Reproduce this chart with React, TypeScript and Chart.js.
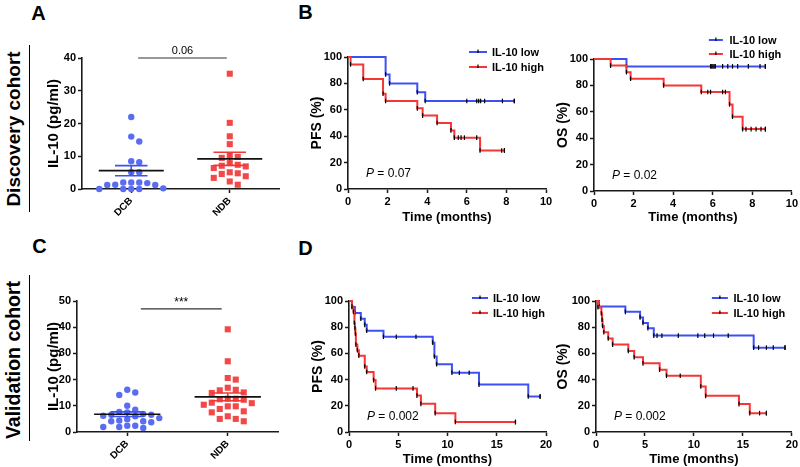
import React, { useEffect, useRef } from "react";
import { Chart, registerables } from "chart.js";

const FONT = "'Liberation Sans', Arial, Helvetica, sans-serif";

// ---------------- DATA ----------------
const groupLabels = ["DCB", "NDB"];
const seriesLabels = ["IL-10 low", "IL-10 high"];

// Panel A – discovery cohort IL-10 (pg/ml)
const aDcb = [22.0, 16.0, 14.5, 8.5, 8.2, 5.1, 5.1, 2.0, 2.0, 2.0, 1.8, 1.3, 1.2, 1.2, 0.2, 0.0, 0.0, 0.0, 0.0];
const aNdb = [35.2, 20.2, 16.1, 13.7, 10.2, 9.8, 9.5, 7.9, 7.4, 7.1, 6.9, 6.4, 5.1, 4.8, 4.6, 3.9, 3.4, 2.3, 1.3];
const aMeans = [5.6, 9.2];
const aSems = [1.55, 2.0];
const aYTicks = [0, 10, 20, 30, 40];
const aSigLabel = "0.06";

// Panel C – validation cohort IL-10 (pg/ml)
const cDcb = [16.1, 15.1, 14.1, 10.0, 8.5, 7.7, 7.5, 6.9, 6.6, 6.6, 6.2, 6.0, 5.3, 4.9, 4.4, 4.1, 4.1, 3.7, 2.4, 2.4, 1.9, 1.9, 1.5];
const cNdb = [39.2, 27.0, 20.6, 20.0, 16.9, 16.1, 15.9, 15.1, 14.9, 12.7, 12.7, 12.5, 12.3, 11.2, 11.0, 10.4, 9.8, 9.8, 8.8, 7.9, 7.5, 6.0, 5.0, 5.0, 4.1];
const cMeans = [6.8, 13.4];
const cSems = [0.9, 1.5];
const cYTicks = [0, 10, 20, 30, 40, 50];
const cSigLabel = "***";

// Panel B – discovery PFS
const bPfsLowT = [0, 1.9, 2.1, 3.5, 3.9, 8.4];
const bPfsLowS = [100, 86.7, 80, 73.3, 66.7, 66.7];
const bPfsLowC = [6.0, 6.5, 6.6, 6.7, 6.9, 7.8, 8.4];
const bPfsHighT = [0, 0.13, 0.77, 1.77, 1.9, 3.5, 3.77, 4.5, 5.2, 5.37, 6.67, 7.9];
const bPfsHighS = [100, 94.4, 83.3, 72.2, 66.7, 61.1, 55.6, 50, 44.4, 38.9, 29.2, 29.2];
const bPfsHighC = [5.57, 5.71, 5.88, 6.5, 7.76, 7.9];
const bPfsP = "0.07";

// Panel B – discovery OS
const bOsLowT = [0, 1.64, 8.66];
const bOsLowS = [100, 94.4, 94.4];
const bOsLowC = [5.89, 5.95, 6.01, 6.07, 6.13, 6.5, 6.76, 7.0, 7.26, 7.8, 8.39, 8.66];
const bOsHighT = [0, 0.84, 1.64, 1.85, 3.52, 5.42, 6.85, 7.0, 7.51, 8.66];
const bOsHighS = [100, 95, 90, 85, 80, 75, 65.6, 56.3, 46.9, 46.9];
const bOsHighC = [5.75, 5.89, 6.5, 6.64, 7.68, 7.94, 8.19, 8.44, 8.66];
const bOsP = "0.02";

// Panel D – validation PFS
const dPfsLowT = [0, 0.3, 0.6, 1.2, 1.6, 1.8, 3.5, 8.5, 8.67, 8.9, 10.45, 13.2, 18.2, 19.4];
const dPfsLowS = [100, 95.5, 90.9, 86.4, 81.8, 77.3, 72.7, 68.2, 57.6, 51.7, 45.2, 36.2, 27.1, 27.1];
const dPfsLowC = [4.8, 6.8, 11.2, 12.2, 19.4];
const dPfsHighT = [0, 0.3, 0.45, 0.55, 0.6, 0.65, 0.7, 0.85, 1.0, 1.6, 1.8, 2.5, 2.7, 6.9, 7.3, 8.75, 10.8, 16.9];
const dPfsHighS = [100, 95.8, 91.7, 83.3, 79.2, 75, 66.7, 62.5, 58.3, 50, 45.8, 39.6, 33.3, 27.8, 21.5, 14.4, 7.6, 7.6];
const dPfsHighC = [4.8, 6.5, 16.9];
const dPfsP = "0.002";

// Panel D – validation OS
const dOsLowT = [0, 0.3, 3.0, 4.5, 4.8, 5.3, 5.9, 16.1, 19.3];
const dOsLowS = [100, 95.8, 91.7, 87.5, 83.3, 79.2, 73.6, 64.4, 64.4];
const dOsLowC = [6.23, 6.73, 8.4, 10.4, 11.1, 12.0, 13.5, 16.6, 17.4, 18.1, 19.3];
const dOsHighT = [0, 0.2, 0.55, 0.62, 0.67, 0.8, 1.25, 1.7, 3.3, 3.9, 4.8, 6.5, 7.2, 10.7, 11.2, 14.6, 15.7, 17.4];
const dOsHighS = [100, 95.2, 90.5, 85.7, 81, 76.2, 71.4, 66.7, 61.9, 57.1, 52.4, 47.6, 42.9, 34.7, 27.6, 21.3, 14.4, 14.4];
const dOsHighC = [8.6, 16.7, 17.4];
const dOsP = "0.002";

const kmYTicks = [0, 20, 40, 60, 80, 100];
const bTimeTicks = [0, 2, 4, 6, 8, 10];
const dTimeTicks = [0, 5, 10, 15, 20];

// ---------------- STYLE ----------------
const BLUE = "#3e50f2";
const RED = "#f43636";
const DOT_BLUE = "#5a6cf2";
const DOT_RED = "#f24848";
const AXIS = "#1a1a1a";

type Pad = { top: number; right: number; bottom: number; left: number };
type Box = { x: number; y: number; w: number; h: number; pad: Pad; yW: number; xH: number };

const boxA: Box = { x: 45, y: 30, w: 245, h: 199, pad: { top: 28, right: 11, bottom: 0, left: 0 }, yW: 37, xH: 40 };
const boxC: Box = { x: 45, y: 270, w: 243, h: 196, pad: { top: 31, right: 10, bottom: 0, left: 0 }, yW: 32, xH: 34 };
const boxB1: Box = { x: 309, y: 35, w: 247, h: 190, pad: { top: 22, right: 10, bottom: 0, left: 0 }, yW: 39, xH: 36 };
const boxB2: Box = { x: 555, y: 25, w: 245, h: 200, pad: { top: 34, right: 7, bottom: 0, left: 0 }, yW: 39, xH: 34 };
const boxD1: Box = { x: 310, y: 280, w: 246, h: 187, pad: { top: 21, right: 10, bottom: 0, left: 0 }, yW: 39, xH: 35 };
const boxD2: Box = { x: 555, y: 280, w: 245, h: 187, pad: { top: 21, right: 6, bottom: 0, left: 0 }, yW: 41, xH: 35 };

// ---------------- PLUGIN ----------------
const decorPlugin = {
  id: "decor",
  afterDraw(chart: any, _args: any, opts: any) {
    const { ctx, chartArea } = chart;
    ctx.save();
    ctx.fillStyle = "#000";
    if (opts && opts.sig) {
      const s = opts.sig;
      const xs = chart.scales.x;
      const ys = chart.scales.y;
      const px = (xs.getPixelForValue(s.x0) + xs.getPixelForValue(s.x1)) / 2;
      const py = ys.getPixelForValue(s.y);
      ctx.font = `${s.size}px ${FONT}`;
      ctx.textAlign = "center";
      ctx.textBaseline = "alphabetic";
      ctx.fillText(s.text, px, py - s.lift);
    }
    if (opts && opts.p) {
      const x = chartArea.left + opts.p.dx;
      const y = chartArea.bottom - opts.p.dy;
      ctx.textAlign = "left";
      ctx.textBaseline = "alphabetic";
      ctx.font = `italic 12px ${FONT}`;
      ctx.fillText("P", x, y);
      const w = ctx.measureText("P").width;
      ctx.font = `12px ${FONT}`;
      ctx.fillText(" = " + opts.p.value, x + w, y);
    }
    if (opts && opts.legend) {
      const L = opts.legend;
      L.items.forEach((it: any, i: number) => {
        const x = chartArea.right - L.dx;
        const y = chartArea.top - L.dy + i * L.gap;
        ctx.strokeStyle = it.color;
        ctx.lineWidth = 2;
        ctx.beginPath();
        ctx.moveTo(x, y);
        ctx.lineTo(x + L.len, y);
        ctx.stroke();
        ctx.strokeStyle = "#000";
        ctx.lineWidth = 1.2;
        ctx.beginPath();
        ctx.moveTo(x + L.len / 2, y - 2.5);
        ctx.lineTo(x + L.len / 2, y + 1);
        ctx.stroke();
        ctx.font = `bold 11px ${FONT}`;
        ctx.textAlign = "left";
        ctx.textBaseline = "middle";
        ctx.fillText(it.label, x + L.len + L.tg, y + 0.5);
      });
    }
    ctx.restore();
  },
};

Chart.register(...registerables, decorPlugin);
Chart.defaults.font.family = FONT;
Chart.defaults.color = "#000";

// ---------------- HELPERS ----------------
function axisCommon() {
  return {
    border: { display: true, color: AXIS, width: 1.6 },
    grid: {
      display: true,
      drawOnChartArea: false,
      drawTicks: true,
      tickLength: 4,
      tickColor: AXIS,
      tickWidth: 1.5,
      color: AXIS,
    },
  };
}
const tickFont = { family: FONT, size: 11, weight: "bold" as const };

function swarmOffsets(values: number[], pxPerY: number, stepPx: number, minDist: number): number[] {
  const order = values.map((_, i) => i).sort((a, b) => values[b] - values[a]);
  const placed: { x: number; y: number }[] = [];
  const out = new Array(values.length).fill(0);
  for (const i of order) {
    const y = values[i] * pxPerY;
    for (let k = 0; k < 80; k++) {
      const lane = k === 0 ? 0 : (k % 2 === 1 ? 1 : -1) * Math.ceil(k / 2);
      const x = lane * stepPx;
      if (placed.every((p) => Math.hypot(p.x - x, p.y - y) >= minDist)) {
        placed.push({ x, y });
        out[i] = x;
        break;
      }
    }
  }
  return out;
}

function seg(x0: number, y0: number, x1: number, y1: number, color: string, width: number) {
  return {
    type: "scatter",
    data: [
      { x: x0, y: y0 },
      { x: x1, y: y1 },
    ],
    showLine: true,
    borderColor: color,
    borderWidth: width,
    pointRadius: 0,
    clip: false,
  };
}

function scatterConfig(p: {
  box: Box;
  dcb: number[];
  ndb: number[];
  means: number[];
  sems: number[];
  yTicks: number[];
  sig: { x0: number; x1: number; y: number; text: string; size: number; lift: number };
}) {
  const { box } = p;
  const xMin = 0.5;
  const xMax = 2.5;
  const yMax = p.yTicks[p.yTicks.length - 1];
  const plotW = box.w - box.pad.left - box.pad.right - box.yW;
  const plotH = box.h - box.pad.top - box.pad.bottom - box.xH;
  const pxX = plotW / (xMax - xMin);
  const pxY = plotH / yMax;
  const offD = swarmOffsets(p.dcb, pxY, 8, 6.5);
  const offN = swarmOffsets(p.ndb, pxY, 8, 6.8);
  const groupSegs = (cx: number, m: number, s: number, color: string) => [
    seg(cx - 0.33, m, cx + 0.33, m, "#111", 1.6),
    seg(cx - 0.165, m + s, cx + 0.165, m + s, color, 1.6),
    seg(cx - 0.165, m - s, cx + 0.165, m - s, color, 1.6),
    seg(cx, m - s, cx, m + s, color, 1.6),
  ];
  return {
    type: "scatter",
    data: {
      datasets: [
        ...groupSegs(1, p.means[0], p.sems[0], BLUE),
        ...groupSegs(2, p.means[1], p.sems[1], RED),
        seg(p.sig.x0, p.sig.y, p.sig.x1, p.sig.y, "#333", 1.2),
        {
          type: "scatter",
          data: p.dcb.map((v, i) => ({ x: 1 + offD[i] / pxX, y: v })),
          pointStyle: "circle",
          pointRadius: 3.2,
          backgroundColor: DOT_BLUE,
          borderWidth: 0,
          clip: false,
        },
        {
          type: "scatter",
          data: p.ndb.map((v, i) => ({ x: 2 + offN[i] / pxX, y: v })),
          pointStyle: "rect",
          pointRadius: 4.3,
          backgroundColor: DOT_RED,
          borderWidth: 0,
          clip: false,
        },
      ],
    },
    options: {
      responsive: false,
      animation: false,
      events: [],
      layout: { padding: box.pad },
      plugins: {
        legend: { display: false },
        tooltip: { enabled: false },
        decor: { sig: p.sig },
      },
      scales: {
        x: {
          type: "linear",
          min: xMin,
          max: xMax,
          ...axisCommon(),
          afterBuildTicks: (s: any) => {
            s.ticks = groupLabels.map((_, i) => ({ value: i + 1 }));
          },
          afterFit: (s: any) => {
            s.height = box.xH;
          },
          ticks: {
            autoSkip: false,
            minRotation: 45,
            maxRotation: 45,
            padding: 2,
            font: { family: FONT, size: 10, weight: "bold" },
            color: "#000",
            callback: (v: any) => groupLabels[Math.round(v) - 1] ?? "",
          },
        },
        y: {
          type: "linear",
          min: 0,
          max: yMax,
          ...axisCommon(),
          afterBuildTicks: (s: any) => {
            s.ticks = p.yTicks.map((v) => ({ value: v }));
          },
          afterFit: (s: any) => {
            s.width = box.yW;
          },
          ticks: { padding: 2, font: tickFont, color: "#000" },
          title: {
            display: true,
            text: "IL-10 (pg/ml)",
            color: "#000",
            font: { family: FONT, size: 15, weight: "bold" },
            padding: { top: 0, bottom: 0 },
          },
        },
      },
    },
  };
}

function stepAt(times: number[], surv: number[], t: number) {
  let s = surv[0];
  for (let i = 0; i < times.length; i++) if (times[i] <= t) s = surv[i];
  return s;
}
function kmPoints(times: number[], surv: number[], cens: number[]) {
  const pts = times.map((t, i) => ({ x: t, y: surv[i], ev: 1 }));
  cens.forEach((c) => pts.push({ x: c, y: stepAt(times, surv, c), ev: 0 }));
  pts.sort((a, b) => a.x - b.x || b.ev - a.ev);
  return pts;
}

function kmDataset(pts: any[], color: string) {
  return {
    type: "line",
    data: pts,
    stepped: true,
    borderColor: color,
    borderWidth: 2,
    pointStyle: "line",
    rotation: 90,
    pointRadius: (ctx: any) => (ctx.raw && ctx.raw.x === 0 ? 0 : 2.3),
    pointBorderColor: "#000",
    pointBackgroundColor: "#000",
    pointBorderWidth: 1.2,
    clip: false,
    fill: false,
  };
}

function kmConfig(p: {
  box: Box;
  low: { t: number[]; s: number[]; c: number[] };
  high: { t: number[]; s: number[]; c: number[] };
  xTicks: number[];
  yTitle: string;
  pValue: string;
  legend: { dx: number; dy: number; gap: number; len: number; tg: number };
}) {
  const { box } = p;
  return {
    type: "line",
    data: {
      datasets: [
        kmDataset(kmPoints(p.high.t, p.high.s, p.high.c), RED),
        kmDataset(kmPoints(p.low.t, p.low.s, p.low.c), BLUE),
      ],
    },
    options: {
      responsive: false,
      animation: false,
      events: [],
      layout: { padding: box.pad },
      plugins: {
        legend: { display: false },
        tooltip: { enabled: false },
        decor: {
          p: { dx: 18, dy: 12, value: p.pValue },
          legend: {
            ...p.legend,
            items: [
              { label: seriesLabels[0], color: BLUE },
              { label: seriesLabels[1], color: RED },
            ],
          },
        },
      },
      scales: {
        x: {
          type: "linear",
          min: p.xTicks[0],
          max: p.xTicks[p.xTicks.length - 1],
          ...axisCommon(),
          afterBuildTicks: (s: any) => {
            s.ticks = p.xTicks.map((v) => ({ value: v }));
          },
          afterFit: (s: any) => {
            s.height = box.xH;
          },
          ticks: { padding: 2, font: tickFont, color: "#000", maxRotation: 0, autoSkip: false },
          title: {
            display: true,
            text: "Time (months)",
            color: "#000",
            font: { family: FONT, size: 13, weight: "bold" },
            padding: { top: 0, bottom: 0 },
          },
        },
        y: {
          type: "linear",
          min: 0,
          max: 100,
          ...axisCommon(),
          afterBuildTicks: (s: any) => {
            s.ticks = kmYTicks.map((v) => ({ value: v }));
          },
          afterFit: (s: any) => {
            s.width = box.yW;
          },
          ticks: { padding: 2, font: tickFont, color: "#000" },
          title: {
            display: true,
            text: p.yTitle,
            color: "#000",
            font: { family: FONT, size: 14, weight: "bold" },
            padding: { top: 0, bottom: 0 },
          },
        },
      },
    },
  };
}

// ---------------- COMPONENTS ----------------
function ChartBox({ box, build }: { box: Box; build: () => any }) {
  const ref = useRef<HTMLCanvasElement>(null);
  useEffect(() => {
    const chart = new Chart(ref.current as HTMLCanvasElement, build());
    return () => chart.destroy();
  }, []);
  return (
    <canvas
      ref={ref}
      width={box.w}
      height={box.h}
      style={{ position: "absolute", left: box.x, top: box.y, width: box.w, height: box.h }}
    />
  );
}

function Label({ text, cx, cy, size, rotate }: { text: string; cx: number; cy: number; size: number; rotate?: boolean }) {
  return (
    <div
      style={{
        position: "absolute",
        left: cx,
        top: cy,
        transform: `translate(-50%, -50%)${rotate ? " rotate(-90deg)" : ""}`,
        fontFamily: FONT,
        fontWeight: "bold",
        fontSize: size,
        lineHeight: "1",
        whiteSpace: "nowrap",
        color: "#000",
      }}
    >
      {text}
    </div>
  );
}

export default function App() {
  return (
    <div
      style={{
        position: "absolute",
        left: 0,
        top: 0,
        width: 800,
        height: 467,
        background: "#fff",
        overflow: "hidden",
      }}
    >
      <Label text="A" cx={38.5} cy={12.5} size={20} />
      <Label text="B" cx={305.5} cy={11.5} size={20} />
      <Label text="C" cx={39.5} cy={245.5} size={20} />
      <Label text="D" cx={305.5} cy={247.5} size={20} />
      <Label text="Discovery cohort" cx={13} cy={129} size={19} rotate />
      <Label text="Validation cohort" cx={14} cy={360} size={19.5} rotate />
      <div style={{ position: "absolute", left: 28.5, top: 45, width: 1.5, height: 167, background: "#000" }} />
      <div style={{ position: "absolute", left: 28.5, top: 275, width: 1.5, height: 166, background: "#000" }} />

      <ChartBox
        box={boxA}
        build={() =>
          scatterConfig({
            box: boxA,
            dcb: aDcb,
            ndb: aNdb,
            means: aMeans,
            sems: aSems,
            yTicks: aYTicks,
            sig: { x0: 1.07, x1: 1.97, y: 40, text: aSigLabel, size: 11, lift: 4 },
          })
        }
      />
      <ChartBox
        box={boxC}
        build={() =>
          scatterConfig({
            box: boxC,
            dcb: cDcb,
            ndb: cNdb,
            means: cMeans,
            sems: cSems,
            yTicks: cYTicks,
            sig: { x0: 1.135, x1: 1.94, y: 47, text: cSigLabel, size: 12, lift: 3 },
          })
        }
      />
      <ChartBox
        box={boxB1}
        build={() =>
          kmConfig({
            box: boxB1,
            low: { t: bPfsLowT, s: bPfsLowS, c: bPfsLowC },
            high: { t: bPfsHighT, s: bPfsHighS, c: bPfsHighC },
            xTicks: bTimeTicks,
            yTitle: "PFS (%)",
            pValue: bPfsP,
            legend: { dx: 77, dy: 5, gap: 15, len: 18, tg: 5 },
          })
        }
      />
      <ChartBox
        box={boxB2}
        build={() =>
          kmConfig({
            box: boxB2,
            low: { t: bOsLowT, s: bOsLowS, c: bOsLowC },
            high: { t: bOsHighT, s: bOsHighS, c: bOsHighC },
            xTicks: bTimeTicks,
            yTitle: "OS (%)",
            pValue: bOsP,
            legend: { dx: 83, dy: 19, gap: 14, len: 14, tg: 6.5 },
          })
        }
      />
      <ChartBox
        box={boxD1}
        build={() =>
          kmConfig({
            box: boxD1,
            low: { t: dPfsLowT, s: dPfsLowS, c: dPfsLowC },
            high: { t: dPfsHighT, s: dPfsHighS, c: dPfsHighC },
            xTicks: dTimeTicks,
            yTitle: "PFS (%)",
            pValue: dPfsP,
            legend: { dx: 74, dy: 3, gap: 15, len: 16, tg: 5 },
          })
        }
      />
      <ChartBox
        box={boxD2}
        build={() =>
          kmConfig({
            box: boxD2,
            low: { t: dOsLowT, s: dOsLowS, c: dOsLowC },
            high: { t: dOsHighT, s: dOsHighS, c: dOsHighC },
            xTicks: dTimeTicks,
            yTitle: "OS (%)",
            pValue: dOsP,
            legend: { dx: 80, dy: 3, gap: 15, len: 16, tg: 5.5 },
          })
        }
      />
    </div>
  );
}
